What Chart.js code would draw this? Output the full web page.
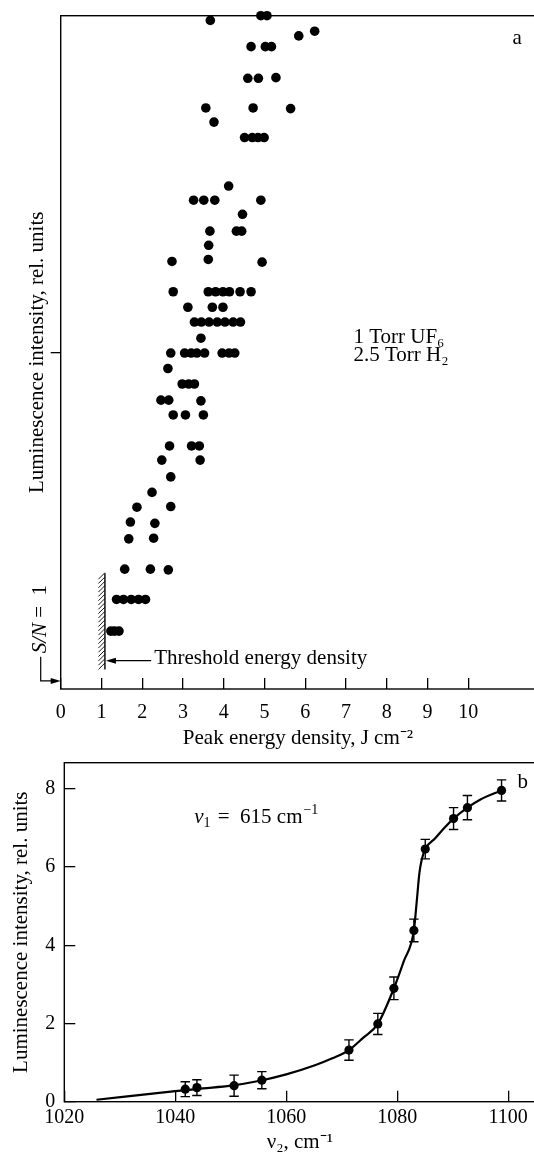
<!DOCTYPE html>
<html>
<head>
<meta charset="utf-8">
<script src="https://cdn.jsdelivr.net/npm/chart.js@4.4.0/dist/chart.umd.min.js"></script>
<style>
  html, body { margin: 0; padding: 0; background: #fff; overflow: hidden; width: 534px; }
  #wrapA { position: absolute; left: 0; top: 0; width: 534px; height: 760px; overflow: hidden; }
  #wrapB { position: absolute; left: 0; top: 740px; width: 534px; height: 420px; overflow: hidden; }
</style>
</head>
<body>
<div id="wrapA"><canvas id="chartA" width="540" height="760"></canvas></div>
<div id="wrapB"><canvas id="chartB" width="540" height="420"></canvas></div>
<script>
// panel a: peak energy density (J cm^-2) vs luminescence (relative, 0..100)
const energyA = [
  4.91, 5.06, 3.67, 6.23, 5.84, 4.67, 5.02, 5.17,
  4.59, 4.85, 5.28, 3.56, 4.72, 5.64, 3.76,
  4.51, 4.70, 4.84, 4.99, 4.12,
  3.26, 3.51, 3.78, 4.91, 4.46, 3.66, 4.31, 4.44, 3.63,
  2.73, 3.62, 4.94,
  2.76, 3.62, 3.80, 3.98, 4.14, 4.40, 4.67,
  3.12, 3.72, 3.98,
  3.28, 3.45, 3.64, 3.84, 4.03, 4.23, 4.41,
  3.44,
  2.70, 3.04, 3.20, 3.34, 3.53, 3.96, 4.13, 4.27,
  2.63, 2.98, 3.14, 3.28,
  2.46, 2.65, 3.44, 2.76, 3.06, 3.50,
  2.67, 3.21, 3.40, 2.48, 3.42, 2.70, 2.24,
  1.87, 2.70, 1.71, 2.31, 1.67, 2.28,
  1.57, 2.20, 2.64,
  1.37, 1.54, 1.73, 1.91, 2.08,
  1.23, 1.32, 1.43
];
const intensityA = [
  100, 100, 99.3, 97.7, 97.0, 95.4, 95.4, 95.4,
  90.7, 90.7, 90.8, 86.3, 86.3, 86.2, 84.2,
  81.9, 81.9, 81.9, 81.9, 74.7,
  72.6, 72.6, 72.6, 72.6, 70.5, 68.0, 68.0, 68.0, 65.9,
  63.5, 63.8, 63.4,
  59.0, 59.0, 59.0, 59.0, 59.0, 59.0, 59.0,
  56.7, 56.7, 56.7,
  54.5, 54.5, 54.5, 54.5, 54.5, 54.5, 54.5,
  52.1,
  49.9, 49.9, 49.9, 49.9, 49.9, 49.9, 49.9, 49.9,
  47.6, 45.3, 45.3, 45.3,
  42.9, 42.9, 42.8, 40.7, 40.7, 40.7,
  36.1, 36.1, 36.1, 34.0, 34.0, 31.5, 29.2,
  27.0, 27.1, 24.8, 24.6, 22.3, 22.4,
  17.8, 17.8, 17.7,
  13.3, 13.3, 13.3, 13.3, 13.3,
  8.6, 8.6, 8.6
];
const xTicksA = [0, 1, 2, 3, 4, 5, 6, 7, 8, 9, 10];
const yTicksA = [50];
const thresholdEnergy = 1.085;

// panel b: nu2 (cm^-1) vs luminescence intensity
const nu2Points = [1041.8, 1043.9, 1050.6, 1055.6, 1071.3, 1076.5, 1079.4, 1083.0, 1085.05, 1090.15, 1092.65, 1098.8];
const lumPoints = [0.32, 0.36, 0.41, 0.55, 1.32, 1.99, 2.90, 4.38, 6.46, 7.24, 7.52, 7.96];
const lumErr = [0.19, 0.20, 0.27, 0.22, 0.26, 0.27, 0.29, 0.29, 0.25, 0.28, 0.31, 0.27];
const curveNu = [1025.8, 1040, 1045, 1050, 1055, 1060, 1065.3, 1068.3, 1071.3, 1073.9, 1076.5, 1079.4, 1081.2, 1083.0, 1083.5, 1084.0, 1084.4, 1085.05, 1086.8, 1088.6, 1090.15, 1092.65, 1095, 1098.8];
const curveLum = [0.05, 0.27, 0.34, 0.41, 0.53, 0.70, 0.94, 1.11, 1.32, 1.64, 1.99, 2.90, 3.60, 4.38, 5.10, 5.85, 6.18, 6.46, 6.73, 7.02, 7.24, 7.52, 7.73, 7.96];
const xTicksB = [1020, 1040, 1060, 1080, 1100];
const yTicksB = [0, 2, 4, 6, 8];

const serif = "'Liberation Serif', 'Times New Roman', serif";
Chart.defaults.font.family = serif;
Chart.defaults.color = '#000';

const framePlugin = {
  id: 'frame',
  beforeDatasetsDraw(chart) {
    const { ctx, chartArea: { left, top, right, bottom } } = chart;
    ctx.save();
    ctx.strokeStyle = '#000';
    ctx.lineWidth = 1.4;
    ctx.strokeRect(left, top, right - left, bottom - top);
    ctx.restore();
  }
};

function arrowHead(ctx, x, y, dir) {
  ctx.beginPath();
  ctx.moveTo(x, y);
  ctx.lineTo(x - dir * 10, y - 3);
  ctx.lineTo(x - dir * 10, y + 3);
  ctx.closePath();
  ctx.fill();
}

const annotA = {
  id: 'annotA',
  afterDraw(chart) {
    const { ctx, scales: { x, y }, chartArea } = chart;
    ctx.save();
    ctx.strokeStyle = '#000';
    ctx.fillStyle = '#000';

    // threshold marker with hatching
    const tx = x.getPixelForValue(thresholdEnergy);
    const ty1 = y.getPixelForValue(17.2);
    const ty2 = y.getPixelForValue(2.9);
    ctx.lineWidth = 1.4;
    ctx.beginPath();
    ctx.moveTo(tx, ty1);
    ctx.lineTo(tx, ty2);
    ctx.stroke();
    ctx.lineWidth = 0.9;
    ctx.beginPath();
    for (let yy = ty1 + 6; yy <= ty2 + 1; yy += 4.3) {
      ctx.moveTo(tx - 6.5, yy);
      ctx.lineTo(tx, yy - 6.5);
    }
    ctx.stroke();

    // arrow + label
    const ay = y.getPixelForValue(4.2);
    const ax = x.getPixelForValue(2.22);
    ctx.lineWidth = 1.2;
    ctx.beginPath();
    ctx.moveTo(ax, ay);
    ctx.lineTo(tx + 4, ay);
    ctx.stroke();
    arrowHead(ctx, tx + 1, ay, -1);
    ctx.font = '21px ' + serif;
    ctx.textAlign = 'left';
    ctx.textBaseline = 'middle';
    ctx.fillText('Threshold energy density', ax + 3, ay - 2);

    // S/N = 1 bracket
    const bx = chartArea.left - 20;
    const by1 = y.getPixelForValue(4.8);
    const by2 = y.getPixelForValue(1.2);
    ctx.lineWidth = 1.2;
    ctx.beginPath();
    ctx.moveTo(bx, by1);
    ctx.lineTo(bx, by2);
    ctx.lineTo(chartArea.left - 6, by2);
    ctx.stroke();
    arrowHead(ctx, chartArea.left, by2, 1);

    ctx.save();
    ctx.translate(bx, y.getPixelForValue(5.3));
    ctx.rotate(-Math.PI / 2);
    ctx.font = 'italic 21px ' + serif;
    ctx.fillText('S/N', 0, 0);
    const w = ctx.measureText('S/N').width;
    ctx.font = '21px ' + serif;
    ctx.fillText(' =  1', w, 0);
    ctx.restore();

    // gas composition
    ctx.font = '21px ' + serif;
    ctx.fillText('1 Torr UF₆', x.getPixelForValue(7.18), y.getPixelForValue(52.2));
    ctx.fillText('2.5 Torr H₂', x.getPixelForValue(7.18), y.getPixelForValue(49.6));

    ctx.textAlign = 'center';
    ctx.fillText('a', x.getPixelForValue(11.2), y.getPixelForValue(96.6));
    ctx.restore();
  }
};

const annotB = {
  id: 'annotB',
  afterDatasetsDraw(chart) {
    const { ctx, scales: { x, y } } = chart;
    ctx.save();
    ctx.strokeStyle = '#000';
    ctx.fillStyle = '#000';
    ctx.lineWidth = 1.4;
    nu2Points.forEach((v, i) => {
      const px = x.getPixelForValue(v);
      const yTop = y.getPixelForValue(lumPoints[i] + lumErr[i]);
      const yBot = y.getPixelForValue(lumPoints[i] - lumErr[i]);
      ctx.beginPath();
      ctx.moveTo(px, yTop); ctx.lineTo(px, yBot);
      ctx.moveTo(px - 4.7, yTop); ctx.lineTo(px + 4.7, yTop);
      ctx.moveTo(px - 4.7, yBot); ctx.lineTo(px + 4.7, yBot);
      ctx.stroke();
    });

    ctx.font = '21px ' + serif;
    ctx.textBaseline = 'middle';
    ctx.textAlign = 'center';
    ctx.fillText('b', x.getPixelForValue(1102.6), y.getPixelForValue(8.17));

    ctx.textAlign = 'left';
    const lx = x.getPixelForValue(1043.4);
    const ly = y.getPixelForValue(7.26);
    ctx.font = 'italic 21px ' + serif;
    ctx.fillText('ν', lx, ly);
    let w = ctx.measureText('ν').width;
    ctx.font = '14px ' + serif;
    ctx.fillText('1', lx + w, ly + 5);
    w += ctx.measureText('1').width;
    ctx.font = '21px ' + serif;
    ctx.fillText(' =  615 cm', lx + w + 2, ly);
    w += ctx.measureText(' =  615 cm').width + 2;
    ctx.font = '14px ' + serif;
    ctx.fillText('−1', lx + w + 1, ly - 8);
    ctx.restore();
  }
};

const tickGrid = (len) => ({ drawOnChartArea: false, tickLength: len, color: '#000', lineWidth: 1.3 });
const plainLabel = (v) => String(v);
// fixed axis boxes so the plot area lands where the figure has it
const fixHeight = (h) => (s) => { s.height = h; s.paddingLeft = 0; s.paddingRight = 0; };
const fixWidth = (w) => (s) => { s.width = w; s.paddingTop = 0; s.paddingBottom = 0; };

new Chart(document.getElementById('chartA'), {
  type: 'scatter',
  data: {
    datasets: [{
      data: energyA.map((v, i) => ({ x: v, y: intensityA[i] })),
      backgroundColor: '#000',
      borderColor: '#000',
      borderWidth: 0,
      pointRadius: 4.8,
      pointHoverRadius: 4.8,
      clip: false
    }]
  },
  options: {
    responsive: false,
    animation: false,
    events: [],
    layout: { padding: { top: 15.7, right: 2, left: 0, bottom: 0 } },
    plugins: { legend: { display: false }, tooltip: { enabled: false } },
    scales: {
      x: {
        type: 'linear', min: 0, max: 11.64,
        afterBuildTicks: s => { s.ticks = xTicksA.map(v => ({ value: v })); },
        afterFit: fixHeight(71),
        grid: tickGrid(-11),
        border: { display: false },
        ticks: { padding: 22.7, font: { size: 20 }, color: '#000', maxRotation: 0, autoSkip: false, callback: plainLabel },
        title: { display: true, text: 'Peak energy density, J cm⁻²', font: { size: 21 }, color: '#000', padding: { top: 0, bottom: 9.4 } }
      },
      y: {
        type: 'linear', min: 0, max: 100,
        afterBuildTicks: s => { s.ticks = yTicksA.map(v => ({ value: v })); },
        afterFit: fixWidth(60.7),
        grid: tickGrid(10),
        border: { display: false },
        ticks: { callback: () => '' },
        title: { display: true, text: 'Luminescence intensity, rel. units', font: { size: 21 }, color: '#000', padding: { top: 24.4, bottom: 0 } }
      }
    }
  },
  plugins: [framePlugin, annotA]
});

new Chart(document.getElementById('chartB'), {
  type: 'scatter',
  data: {
    datasets: [
      {
        data: curveNu.map((v, i) => ({ x: v, y: curveLum[i] })),
        showLine: true,
        borderColor: '#000',
        borderWidth: 2.2,
        pointRadius: 0,
        cubicInterpolationMode: 'monotone'
      },
      {
        data: nu2Points.map((v, i) => ({ x: v, y: lumPoints[i] })),
        backgroundColor: '#000',
        borderColor: '#000',
        borderWidth: 0,
        pointRadius: 4.6,
        pointHoverRadius: 4.6
      }
    ]
  },
  options: {
    responsive: false,
    animation: false,
    events: [],
    layout: { padding: { top: 22.7, right: 2, left: 0, bottom: 0 } },
    plugins: { legend: { display: false }, tooltip: { enabled: false } },
    scales: {
      x: {
        type: 'linear', min: 1020, max: 1104.9,
        afterBuildTicks: s => { s.ticks = xTicksB.map(v => ({ value: v })); },
        afterFit: fixHeight(58.3),
        grid: tickGrid(-11),
        border: { display: false },
        ticks: { padding: 15, font: { size: 20 }, color: '#000', maxRotation: 0, autoSkip: false, callback: plainLabel },
        title: { display: true, text: 'ν₂, cm⁻¹', font: { size: 21 }, color: '#000', padding: { top: 0, bottom: 4.7 } }
      },
      y: {
        type: 'linear', min: 0, max: 8.67,
        afterBuildTicks: s => { s.ticks = yTicksB.map(v => ({ value: v })); },
        afterFit: fixWidth(64.3),
        grid: tickGrid(-11),
        border: { display: false },
        ticks: { padding: 20, font: { size: 20 }, color: '#000', callback: plainLabel },
        title: { display: true, text: 'Luminescence intensity, rel. units', font: { size: 21 }, color: '#000', padding: { top: 9.1, bottom: 0 } }
      }
    }
  },
  plugins: [framePlugin, annotB]
});
</script>
</body>
</html>
